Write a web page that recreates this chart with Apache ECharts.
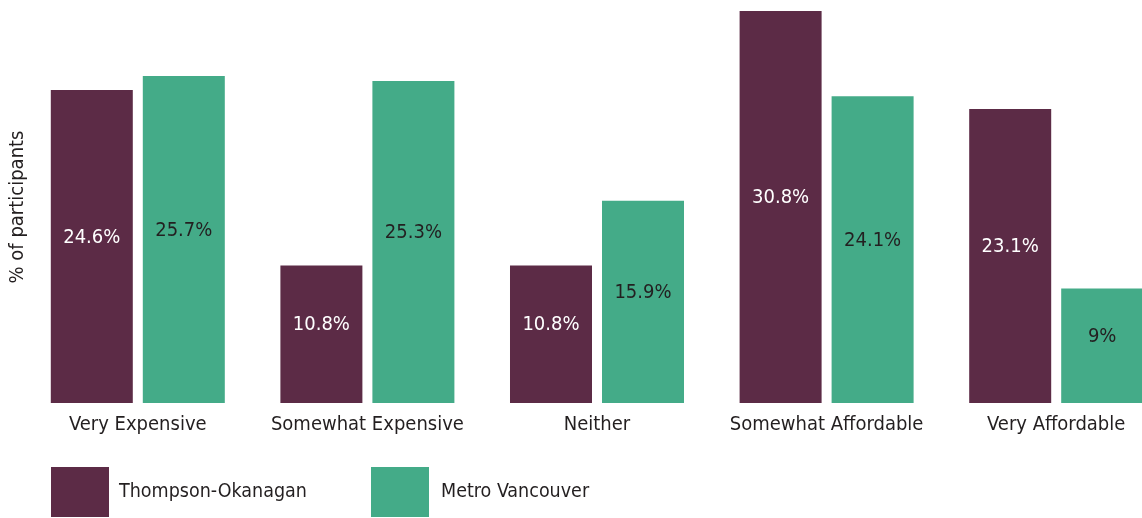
<!DOCTYPE html>
<html><head><meta charset="utf-8">
<script src="https://cdn.jsdelivr.net/npm/echarts@6/dist/echarts.min.js"></script>
<style>html,body{margin:0;padding:0;background:#fff}#c{width:1142px;height:518px}</style>
</head><body><div id="c"></div>
<script>
const categories = ['Very Expensive','Somewhat Expensive','Neither','Somewhat Affordable','Very Affordable'];
const thompson = [24.6, 10.8, 10.8, 30.8, 23.1];
const metro = [25.7, 25.3, 15.9, 24.1, 9];
const seriesNames = ['Thompson-Okanagan','Metro Vancouver'];

const FONT = '"DejaVu Sans Condensed", "DejaVu Sans", sans-serif';
const PURPLE = '#5c2b46', GREEN = '#44ab88', DARK = '#231f20';
const chart = echarts.init(document.getElementById('c'));
const lbl = (color) => ({show:true, position:'inside', offset:[0,-9], color:color, fontFamily:FONT, fontSize:20,
  formatter: p => p.value + '%'});
chart.setOption({
  animation:false,
  textStyle:{fontFamily:FONT},
  grid:{left:23, top:11, width:1148, height:392, containLabel:false, outerBoundsMode:'none'},
  legend:[
    {data:[seriesNames[0]], left:51, top:467, padding:0, itemWidth:58, itemHeight:50, icon:'rect', selectedMode:false,
     textStyle:{fontFamily:FONT, fontSize:19.5, color:DARK, padding:[0,0,0,5]}},
    {data:[seriesNames[1]], left:371, top:467, padding:0, itemWidth:58, itemHeight:50, icon:'rect', selectedMode:false,
     textStyle:{fontFamily:FONT, fontSize:19.5, color:DARK, padding:[0,0,0,7]}}
  ],
  xAxis:{type:'category', data:categories, axisLine:{show:false}, axisTick:{show:false},
    axisLabel:{color:DARK, fontSize:20, fontFamily:FONT, margin:12, interval:0}},
  yAxis:{type:'value', min:0, max:30.8, name:'% of participants', nameLocation:'middle', nameGap:-5,
    nameRotate:90, nameTextStyle:{color:DARK, fontSize:20, fontFamily:FONT},
    axisLabel:{show:false}, splitLine:{show:false}, axisLine:{show:false}, axisTick:{show:false}},
  series:[
    {name:seriesNames[0], type:'bar', data:thompson, barWidth:82, barGap:'12.2%', itemStyle:{color:PURPLE}, label:lbl('#ffffff')},
    {name:seriesNames[1], type:'bar', data:metro, barWidth:82, itemStyle:{color:GREEN}, label:lbl(DARK)}
  ]
});
</script></body></html>
